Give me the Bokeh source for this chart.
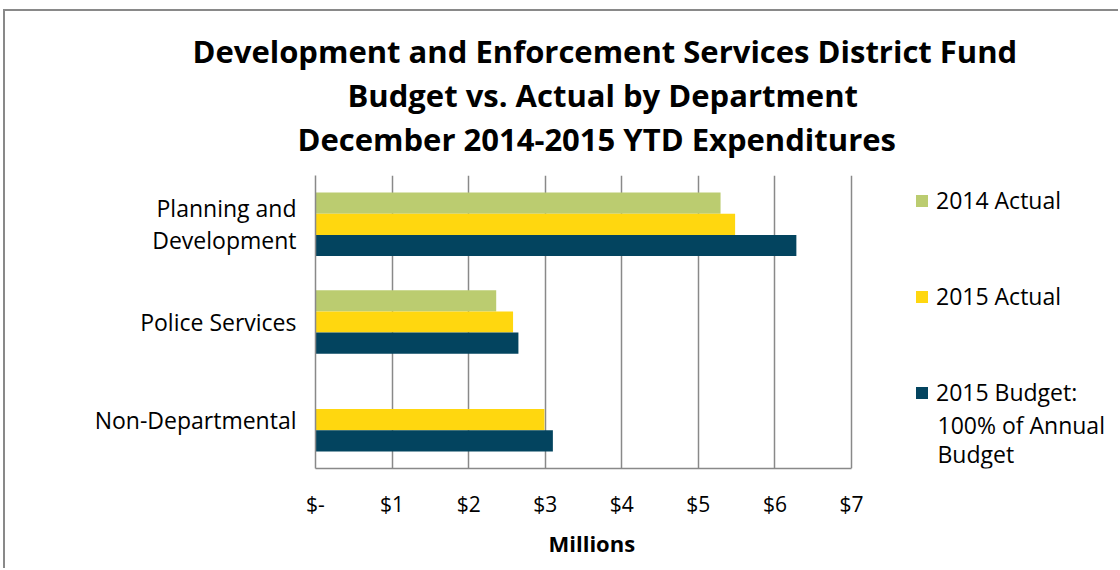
from bokeh.plotting import figure
from bokeh.models import ColumnDataSource, FactorRange, Legend, LegendItem, Title, FixedTicker, Label
from bokeh.transform import dodge
from bokeh.embed import file_html
from bokeh.resources import INLINE

departments = ["Planning and\nDevelopment", "Police Services", "Non-Departmental"]
actual_2014 = [5.29, 2.36, 0.0]
actual_2015 = [5.48, 2.58, 2.99]
budget_2015 = [6.28, 2.65, 3.10]
series_names = ["2014 Actual", "2015 Actual", "2015 Budget:"]
series_name_extra = ["100% of Annual", "Budget"]
x_ticks = [0, 1, 2, 3, 4, 5, 6, 7]
x_tick_labels = ["$-", "$1", "$2", "$3", "$4", "$5", "$6", "$7"]
title_lines = ["Development and Enforcement Services District Fund",
               "Budget vs. Actual by Department",
               "December 2014-2015 YTD Expenditures"]
x_label = "Millions"

colors = ["#BBCC70", "#FFD70F", "#03445F"]
FONT = "Open Sans"
GRID = "#898989"

src = ColumnDataSource(dict(dept=departments, a14=actual_2014, a15=actual_2015, b15=budget_2015))

W, H = 1115, 559
FRAME_LEFT = 315          # page px of the $0 line
PX_PER_UNIT = 536 / 7.0   # page px per $1M
PX_PER_CAT = 293 / 3.0
X_END = (1110 - 310) / PX_PER_UNIT
p = figure(width=W, height=H, y_range=FactorRange(*departments[::-1], range_padding=0),
           x_range=(0, X_END), output_backend="svg", toolbar_location=None,
           min_border_left=310, min_border_right=5, min_border_top=164, min_border_bottom=102,
           margin=(9, 0, 0, 3),
           styles={"border-top": "2px solid #898989", "border-left": "2px solid #898989"})
p.outline_line_color = None

bh = 0.217
r1 = p.hbar(y=dodge("dept", bh, range=p.y_range), right="a14", left=0, height=bh, source=src,
            fill_color=colors[0], line_color=None)
r2 = p.hbar(y=dodge("dept", 0, range=p.y_range), right="a15", left=0, height=bh, source=src,
            fill_color=colors[1], line_color=None)
r3 = p.hbar(y=dodge("dept", -bh, range=p.y_range), right="b15", left=0, height=bh, source=src,
            fill_color=colors[2], line_color=None)

# grids
p.ygrid.grid_line_color = None
p.xgrid.grid_line_color = GRID
p.xgrid.grid_line_width = 1.5
p.xgrid.bounds = (0, 7)
p.xaxis.ticker = FixedTicker(ticks=x_ticks)
p.xaxis.bounds = (0, 7)
p.xaxis.major_label_overrides = {t: l for t, l in zip(x_ticks, x_tick_labels)}

for ax in (p.xaxis[0], p.yaxis[0]):
    ax.axis_line_color = GRID
    ax.axis_line_width = 1.5
    ax.major_tick_line_color = None
    ax.minor_tick_line_color = None
    ax.major_label_text_font = FONT
    ax.major_label_text_color = "black"

p.xaxis.major_label_text_font_size = "21px"
p.yaxis.major_label_text_font_size = "23px"
p.yaxis.major_label_text_line_height = 1.0
p.xaxis.major_label_standoff = 15
p.yaxis.major_label_standoff = 13

# spacer between chart title and plot area
p.add_layout(Title(text=" ", text_font_size="12px", standoff=0), "above")
# titles (left-aligned with offsets so they centre over the chart as in the reference)
title_offsets = [192 - FRAME_LEFT, 347 - FRAME_LEFT, 297 - FRAME_LEFT]
for line, off in reversed(list(zip(title_lines, title_offsets))):
    p.add_layout(Title(text=line, align="left", text_font=FONT, text_font_size="31px",
                       text_font_style="bold", text_color="black", offset=off,
                       standoff=0), "above")

# x axis title, placed below the axis, centred under the $0-$7 span
p.add_layout(Title(text=x_label, align="left", text_font=FONT, text_font_size="22px",
                   text_font_style="bold", text_color="black", offset=548 - FRAME_LEFT,
                   standoff=10), "below")

legend = Legend(items=[LegendItem(label=series_names[0], renderers=[r1]),
                       LegendItem(label=series_names[1], renderers=[r2]),
                       LegendItem(label=series_names[2], renderers=[r3])],
                location=(599, 60), orientation="vertical",
                glyph_width=15, glyph_height=15, label_standoff=7, spacing=64,
                padding=0, margin=0, border_line_color=None, background_fill_alpha=0,
                label_text_font=FONT, label_text_font_size="23px", label_text_color="black")
p.add_layout(legend)

# continuation lines of the third legend entry
for txt, ymid in zip(series_name_extra, [424, 453]):
    p.add_layout(Label(x=(937 - FRAME_LEFT) / PX_PER_UNIT, y=(468 - ymid) / PX_PER_CAT, text=txt,
                       text_font=FONT, text_font_size="23px", text_color="black",
                       text_baseline="middle", text_align="left"))

open("out.html", "w").write(file_html(p, INLINE))
